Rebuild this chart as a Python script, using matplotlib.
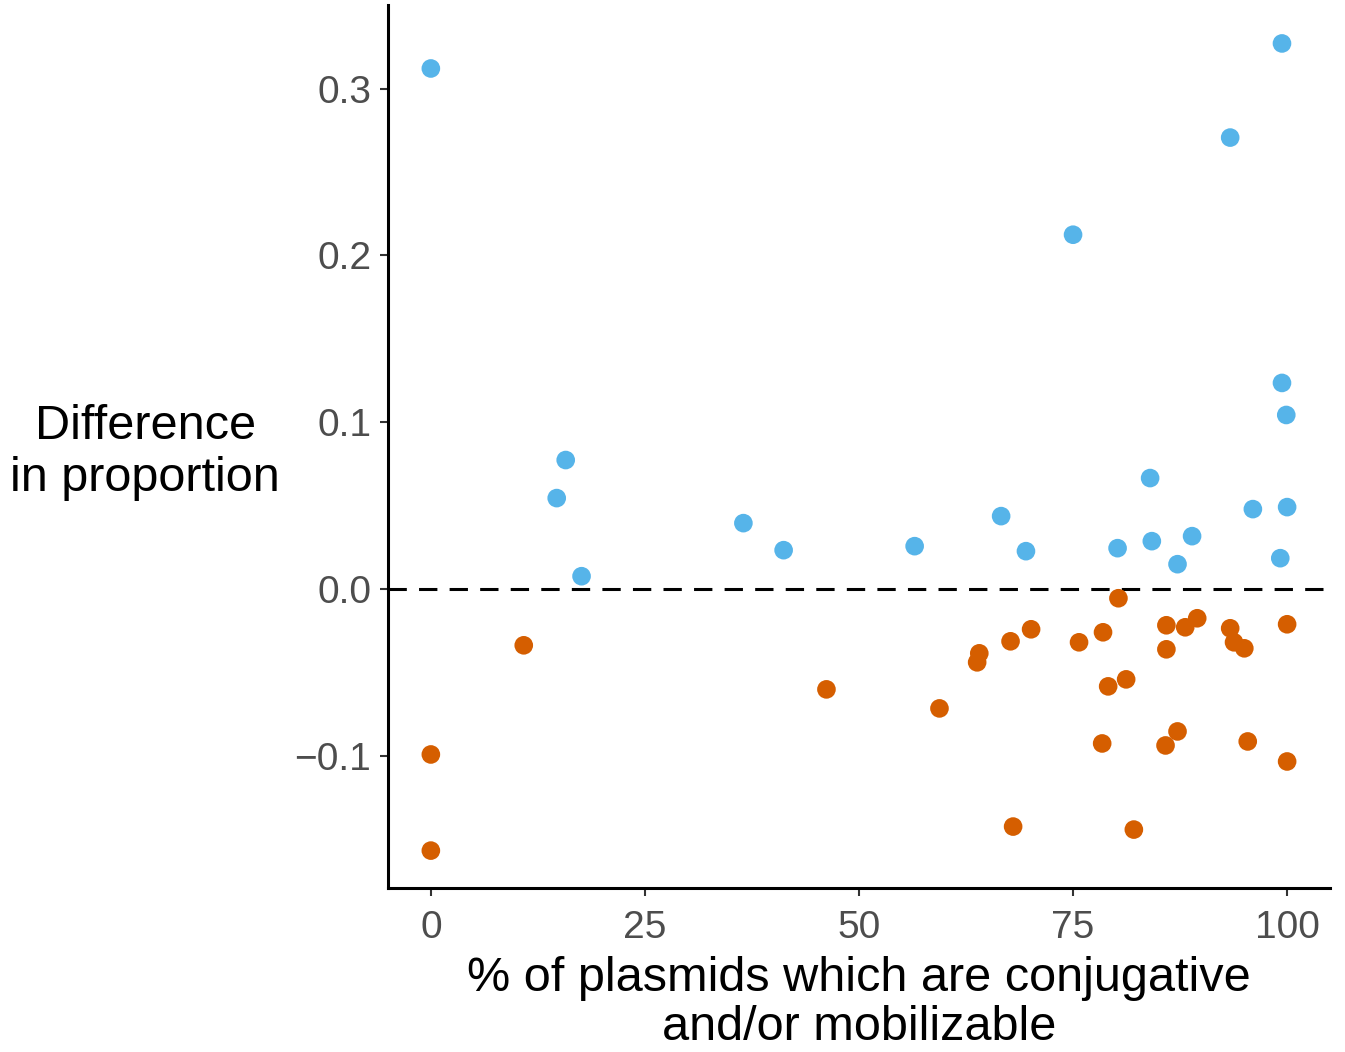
import matplotlib

matplotlib.use("Agg")

import matplotlib.pyplot as plt

plt.rcParams["font.family"] = ["Liberation Sans", "DejaVu Sans"]

# values
pos_x = [0.0, 15.75, 14.7, 17.6, 36.5, 41.2, 56.5, 66.6, 69.5, 75.0, 80.2, 84.0,
         84.2, 87.2, 88.9, 93.35, 96.0, 99.4, 99.4, 99.9, 100.0, 99.2]
pos_y = [0.312, 0.0774, 0.0546, 0.0078, 0.0396, 0.0234, 0.0258, 0.0438, 0.0228,
         0.2124, 0.0246, 0.0666, 0.0288, 0.015, 0.0318, 0.2706, 0.048, 0.327,
         0.1236, 0.1044, 0.0492, 0.0186]

neg_x = [0.0, 0.0, 10.85, 46.2, 59.4, 63.8, 64.05, 67.7, 68.0, 70.1, 75.7, 78.5,
         78.4, 79.1, 80.3, 81.2, 82.1, 85.9, 85.9, 85.8, 87.2, 88.1, 89.5, 93.35,
         93.8, 95.0, 95.4, 100.0, 100.0]
neg_y = [-0.099, -0.1566, -0.0336, -0.060, -0.0714, -0.0438, -0.0384, -0.0312,
         -0.1422, -0.024, -0.0318, -0.0258, -0.0924, -0.0582, -0.0054, -0.054,
         -0.144, -0.0216, -0.036, -0.0936, -0.0852, -0.0228, -0.0174, -0.0234,
         -0.0318, -0.0354, -0.0912, -0.021, -0.1032]

x_ticks = [0, 25, 50, 75, 100]
y_ticks = [-0.1, 0.0, 0.1, 0.2, 0.3]
y_tick_labels = ["\u22120.1", "0.0", "0.1", "0.2", "0.3"]

fig = plt.figure(figsize=(13.45, 10.52), dpi=100)
ax = fig.add_axes([0.2885, 0.1559, 0.7003, 0.8393])

ax.axhline(0, color="black", linestyle=(0, (6, 4)), linewidth=2.2, zorder=1)
ax.scatter(pos_x, pos_y, s=180, color="#56B4E9", edgecolors="none", zorder=2)
ax.scatter(neg_x, neg_y, s=180, color="#D55E00", edgecolors="none", zorder=2)

ax.set_xlim(-5, 105)
ax.set_ylim(-0.179, 0.350)
ax.set_xticks(x_ticks)
ax.set_yticks(y_ticks, labels=y_tick_labels)
ax.tick_params(labelsize=28, labelcolor="#4D4D4D", length=6, width=1.5,
               color="#333333")
ax.tick_params(axis="x", pad=10)
ax.tick_params(axis="y", pad=6)

for side in ("top", "right"):
    ax.spines[side].set_visible(False)
for side in ("left", "bottom"):
    ax.spines[side].set_linewidth(2.2)

ax.set_xlabel("% of plasmids which are conjugative\nand/or mobilizable",
              fontsize=35, linespacing=1.12, labelpad=7)
fig.text(0.108, 0.570, "Difference\nin proportion", fontsize=35,
         ha="center", va="center", linespacing=1.2)

fig.savefig("out.png", dpi=100)
plt.close(fig)
